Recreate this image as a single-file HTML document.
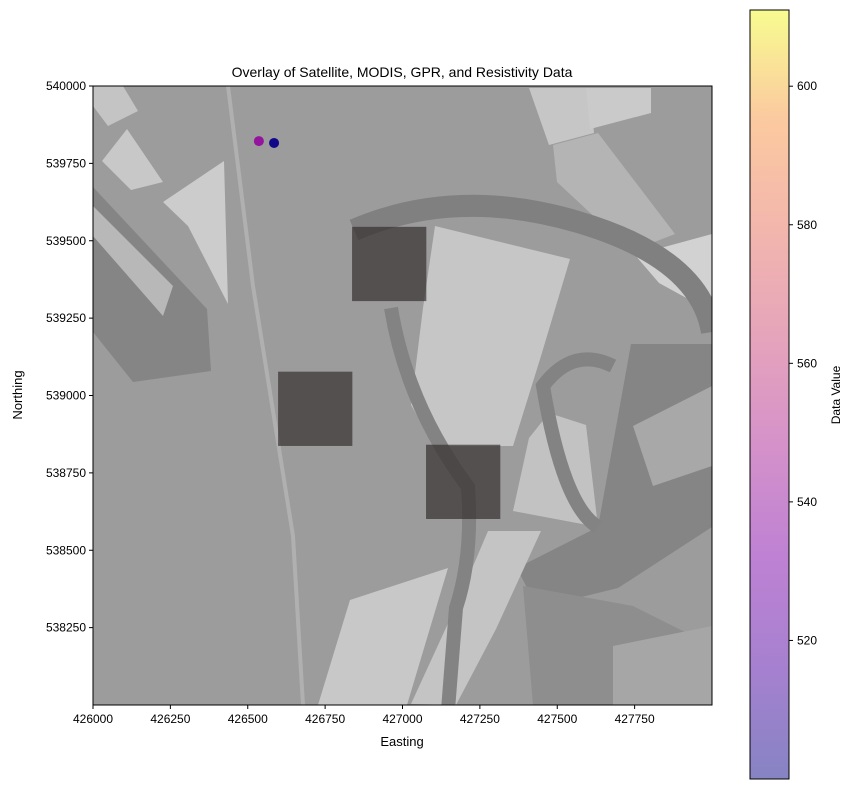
<!DOCTYPE html>
<html><head><meta charset="utf-8"><style>
body{margin:0;background:#fff;font-family:"Liberation Sans",sans-serif;}
svg text{font-family:"Liberation Sans",sans-serif;fill:#000;}
</style></head><body>
<svg id="chart" width="854" height="790" viewBox="0 0 854 790" xmlns="http://www.w3.org/2000/svg">
<defs>
<clipPath id="pc"><rect x="0" y="0" width="619" height="619"/></clipPath>
<linearGradient id="plasma" x1="0" y1="1" x2="0" y2="0">
<stop offset="0" stop-color="#0d0887"/><stop offset="0.14" stop-color="#4c02a1"/>
<stop offset="0.29" stop-color="#7e03a8"/><stop offset="0.43" stop-color="#a92395"/>
<stop offset="0.57" stop-color="#cc4778"/><stop offset="0.71" stop-color="#e66c5c"/>
<stop offset="0.86" stop-color="#f89540"/><stop offset="1" stop-color="#f0f921"/>
</linearGradient>
</defs>
<text x="402" y="77" font-size="14" text-anchor="middle">Overlay of Satellite, MODIS, GPR, and Resistivity Data</text>
<g transform="translate(93,86)">
 <g clip-path="url(#pc)">
  <rect width="619" height="619" fill="#9c9c9c"/>
  <polygon points="0,101 114,223 118,285 40,296 0,246" fill="#858585"/>
  <polygon points="538,258 619,258 619,441 525,502 444,522 424,482 505,441" fill="#858585"/>
  <polygon points="430,500 540,520 620,560 619,619 440,619" fill="#8e8e8e"/>
  <polygon points="342,140 477,173 448,270 420,360 342,360 318,319 330,222" fill="#c6c6c6"/>
  <polygon points="456,327 493,339 505,441 420,425 436,352" fill="#c2c2c2"/>
  <polygon points="257,514 355,482 314,619 225,619" fill="#c8c8c8"/>
  <polygon points="395,445 448,445 403,543 363,619 318,618 363,520" fill="#c4c4c4"/>
  <polygon points="436,2 497,2 501,47 456,59" fill="#c6c6c6"/>
  <polygon points="493,2 558,2 558,27 497,43" fill="#cacaca"/>
  <polygon points="460,59 505,47 582,148 538,165 464,96" fill="#b4b4b4"/>
  <polygon points="542,169 619,148 619,226 566,197" fill="#d2d2d2"/>
  <polygon points="70,116 131,75 135,218 95,140" fill="#cccccc"/>
  <polygon points="9,75 34,43 70,96 38,104" fill="#c8c8c8"/>
  <polygon points="0,0 30,0 45,25 15,40 0,20" fill="#c4c4c4"/>
  <polygon points="0,120 80,200 70,230 0,150" fill="#b8b8b8"/>
  <polygon points="540,340 619,300 619,380 560,400" fill="#a8a8a8"/>
  <polygon points="520,560 619,540 619,619 520,619" fill="#a6a6a6"/>
  <path d="M261,144 Q363,100 485,136 T619,246" fill="none" stroke="#808080" stroke-width="22"/>
  <path d="M298,222 Q314,319 375,401 Q380,470 363,522 L355,624" fill="none" stroke="#838383" stroke-width="14"/>
  <path d="M505,441 Q470,420 450,300 Q480,260 520,280" fill="none" stroke="#838383" stroke-width="14"/>
  <path d="M135,0 L160,200 L200,450 L210,619" fill="none" stroke="#b0b0b0" stroke-width="4"/>
 </g>
 <g id="squares"></g>
 <g id="points"></g>
 <rect width="619" height="619" fill="none" stroke="#000" stroke-width="1"/>
 <g id="xticks"></g>
 <g id="yticks"></g>
</g>
<text x="402" y="746" font-size="13" text-anchor="middle">Easting</text>
<text transform="translate(22,395) rotate(-90)" font-size="13" text-anchor="middle">Northing</text>
<g>
 <rect x="750" y="10" width="39" height="769" fill="url(#plasma)" opacity="0.5"/>
 <rect x="750" y="10" width="39" height="769" fill="none" stroke="#000" stroke-width="1"/>
 <g id="cticks"></g>
 <text transform="translate(840,395) rotate(-90)" font-size="12" text-anchor="middle">Data Value</text>
</g>
</svg>
<script>
const xTicks=[426000,426250,426500,426750,427000,427250,427500,427750];
const yTicks=[538250,538500,538750,539000,539250,539500,539750,540000];
const cTicks=[520,540,560,580,600];
const squareX=[426837,426598,427076];
const squareY=[539305,538837,538601];
const squareSize=240;
const pointX=[426536,426585];
const pointY=[539822,539816];
const pointVal=[540,501];
const X0=426000,X1=428000,Y0=538000,Y1=540000,W=619,H=619;
const CMIN=500,CMAX=611;
const sx=v=>(v-X0)/(X1-X0)*W, sy=v=>H-(v-Y0)/(Y1-Y0)*H;
const cy=v=>779-(v-CMIN)/(CMAX-CMIN)*769;
const NS="http://www.w3.org/2000/svg";
function mk(tag,at,parent){const e=document.createElementNS(NS,tag);for(const k in at)e.setAttribute(k,at[k]);parent.appendChild(e);return e;}
const xg=document.getElementById('xticks');
xTicks.forEach(t=>{const x=sx(t);
 const l=mk('line',{x1:x,x2:x,y1:H,y2:H+4,stroke:'#000'},xg);
 
 
 const tx=mk('text',{x:x,y:H+18,'font-size':12,'text-anchor':'middle'},xg);tx.textContent=t;
 
 });
const yg=document.getElementById('yticks');
yTicks.forEach(t=>{const y=sy(t);
 const l=mk('line',{x1:-4,x2:0,y1:y,y2:y,stroke:'#000'},yg);
 
 
 const tx=mk('text',{x:-7,y:y+4,'font-size':12,'text-anchor':'end'},yg);tx.textContent=t;
 
 });
const sg=document.getElementById('squares');
squareX.forEach((x,i)=>{const r=mk('rect',{x:sx(x),y:sy(squareY[i]+squareSize),width:sx(x+squareSize)-sx(x),height:sy(squareY[i])-sy(squareY[i]+squareSize),fill:'#2e2828',opacity:0.65},sg);
 
 });
function plasma(t){const s=[[13,8,135],[76,2,161],[126,3,168],[169,35,149],[204,71,120],[230,108,92],[248,149,64],[240,249,33]];
 const f=Math.max(0,Math.min(1,t))*(s.length-1),i=Math.min(s.length-2,Math.floor(f)),u=f-i;
 return 'rgb('+s[i].map((c,k)=>Math.round(c+(s[i+1][k]-c)*u)).join(',')+')';}
const pg=document.getElementById('points');
pointX.forEach((x,i)=>{const c=mk('circle',{cx:sx(x),cy:sy(pointY[i]),r:5,fill:plasma((pointVal[i]-CMIN)/(CMAX-CMIN))},pg);
 
 });
const cg=document.getElementById('cticks');
cTicks.forEach(t=>{const y=cy(t);
 const l=mk('line',{x1:789,x2:793,y1:y,y2:y,stroke:'#000'},cg);
 
 
 const tx=mk('text',{x:797,y:y+4,'font-size':12},cg);tx.textContent=t;
 
 });
</script>
</body></html>
